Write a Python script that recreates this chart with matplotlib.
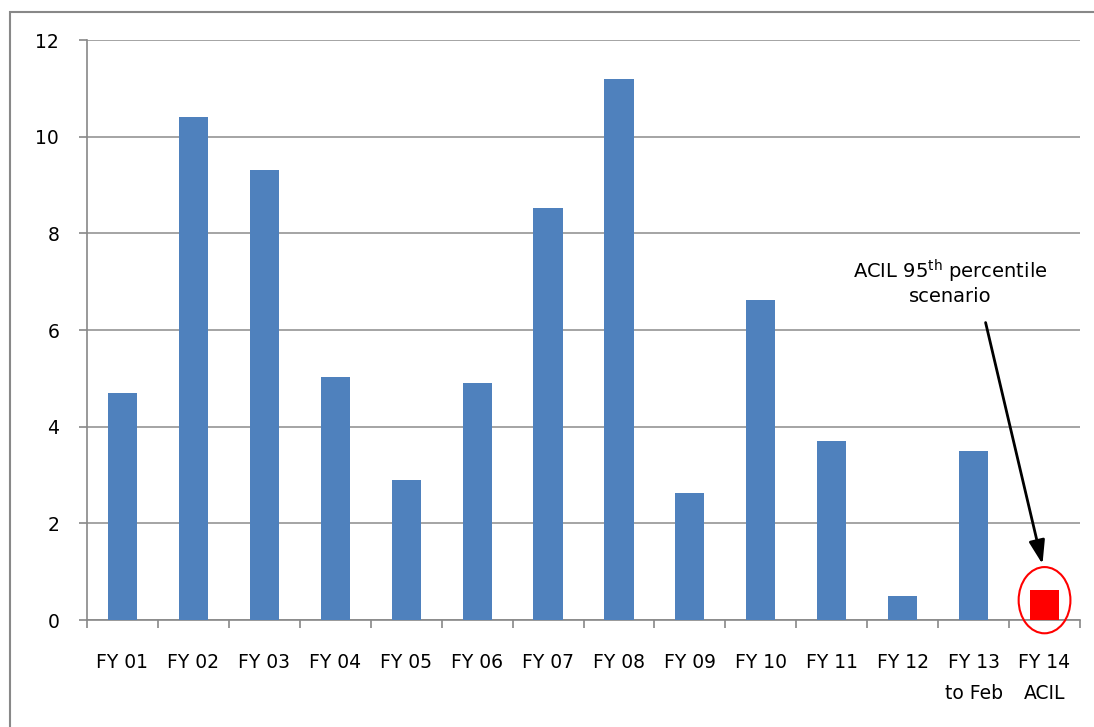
import matplotlib.pyplot as plt
from matplotlib.patches import Ellipse, Rectangle

labels = ["FY 01", "FY 02", "FY 03", "FY 04", "FY 05", "FY 06", "FY 07",
          "FY 08", "FY 09", "FY 10", "FY 11", "FY 12", "FY 13\nto Feb", "FY 14\nACIL"]
values = [4.70, 10.40, 9.32, 5.02, 2.90, 4.90, 8.52,
          11.20, 2.62, 6.62, 3.70, 0.50, 3.50, 0.62]
colors = ["#4F81BD"] * 13 + ["#FF0000"]

fig = plt.figure(figsize=(10.94, 7.27), dpi=100)
ax = fig.add_axes([87/1094, 1 - 620/727, (1080 - 87)/1094, (620 - 40)/727])

# outer chart border
fig.patches.append(Rectangle((10/1094, -0.1), 1.2, (727 - 12)/727 + 0.1,
                             transform=fig.transFigure, fill=False,
                             edgecolor="#888888", linewidth=1.5))

x = list(range(len(labels)))
ax.bar(x, values, width=0.41, color=colors, zorder=3)

ax.set_xlim(-0.5, 13.5)
ax.set_ylim(0, 12)
ax.set_yticks(range(0, 13, 2))
ax.set_xticks(x)
ax.set_xticklabels(labels, fontsize=13.5, linespacing=1.75, va="top")
ax.set_xticks([i - 0.5 for i in range(15)], minor=True)
ax.tick_params(axis="x", which="major", length=0, pad=24)
ax.tick_params(axis="x", which="minor", length=6, color="#888888", width=1.2)
ax.tick_params(axis="y", length=6, color="#888888", width=1.2, pad=14, labelsize=13.5)
ax.grid(axis="y", color="#8c8c8c", linewidth=1.1, zorder=0)
for s in ["top", "right"]:
    ax.spines[s].set_visible(False)
for s in ["left", "bottom"]:
    ax.spines[s].set_color("#888888")
    ax.spines[s].set_linewidth(1.2)

ax.add_patch(Ellipse((13, 0.41), 0.73, 1.37, fill=False, edgecolor="#FF0000",
                     linewidth=1.5, clip_on=False, zorder=4))

ax.text(11.67, 7.0, "ACIL 95$^{\\mathrm{th}}$ percentile\nscenario", ha="center",
        va="center", multialignment="center", fontsize=14, linespacing=1.1)
ax.annotate("", xy=(12.98, 1.10), xytext=(12.16, 6.21),
            arrowprops=dict(arrowstyle="-|>,head_width=0.22,head_length=0.65",
                            color="black", lw=2, mutation_scale=22))

fig.savefig("out.png", dpi=100)
